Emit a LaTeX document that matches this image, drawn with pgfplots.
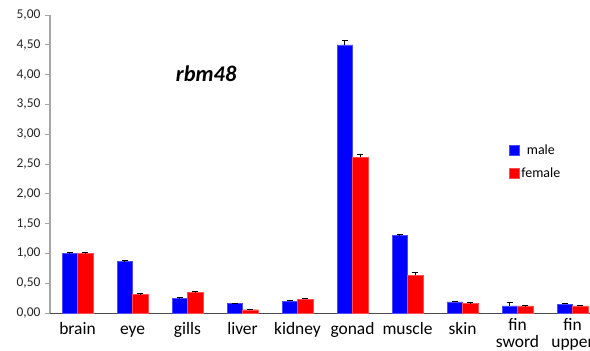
\documentclass[border=0pt]{standalone}
\usepackage{pgfplots}
\pgfplotsset{compat=1.18}
\usepackage{fontspec}
\setmainfont{Carlito}

\definecolor{male}{HTML}{0000FF}
\definecolor{female}{HTML}{FF0000}
\definecolor{axisgray}{HTML}{A6A6A6}

% common first-line height so every category label sits on one baseline
\newcommand{\lh}{\rule{0pt}{12.5bp}}

% relative expression (mean) and error for each tissue
\pgfplotstableread{
x  val   err
0  1.00  0.01
1  0.87  0.01
2  0.25  0.01
3  0.16  0.00
4  0.20  0.01
5  4.50  0.08
6  1.30  0.02
7  0.185 0.01
8  0.12  0.05
9  0.145 0.015
}\maletable
\pgfplotstableread{
x  val   err
0  1.00  0.01
1  0.31  0.01
2  0.35  0.01
3  0.055 0.01
4  0.23  0.02
5  2.61  0.05
6  0.63  0.045
7  0.16  0.015
8  0.12  0.005
9  0.12  0.01
}\femaletable

\begin{document}
\begin{tikzpicture}[x=1bp,y=1bp]
\begin{axis}[
  at={(0bp,0bp)}, anchor=south west,
  scale only axis,
  width=550bp, height=298bp,
  xmin=-0.5, xmax=9.5,
  ymin=0, ymax=5,
  ytick={0,0.5,...,5},
  xtick={0,...,7},
  xticklabels={\lh brain,\lh eye,\lh gills,\lh liver,\lh kidney,\lh gonad,\lh muscle,\lh skin},
  extra x ticks={8,9},
  extra x tick labels={{\lh fin\\sword},{\lh fin\\upper}},
  extra x tick style={major tick style={draw=none},
    xticklabel style={yshift=3.5bp}},
  xticklabel style={align=center, font=\fontsize{17.5}{16.8}\selectfont, text=black},
  major x tick style={draw=none},
  yticklabel style={font=\fontsize{13.5}{14}\selectfont, text=black!85, xshift=-1bp},
  /pgf/number format/.cd, fixed, fixed zerofill, precision=2, use comma, assume math mode=true,
  /pgfplots/.cd,
  axis x line*=bottom,
  axis y line*=left,
  x axis line style={draw=black!70, line width=0.8bp},
  y axis line style={draw=axisgray, line width=1.2bp},
  major y tick style={draw=axisgray, line width=0.8bp},
  tick align=outside,
  major tick length=5bp,
  ybar=0pt,
  bar width=15.5bp,
  legend style={draw=none, fill=none, at={(0.828,0.578)}, anchor=north west,
    font=\fontsize{14}{16}\selectfont, row sep=8bp},
  legend image code/.code={\fill[#1] (0bp,-5bp) rectangle (10.5bp,5.5bp);},
  clip=false,
]
\addplot[fill=male, draw=male!70, line width=0.4bp,
  error bars/.cd, y dir=plus, y explicit,
  error bar style={black, line width=0.9bp}, error mark options={black, mark size=3bp, line width=0.9bp, rotate=90}]
  table[x=x, y=val, y error=err] {\maletable};
\addlegendentry{male}
\addplot[fill=female, draw=female!70, line width=0.4bp,
  error bars/.cd, y dir=plus, y explicit,
  error bar style={black, line width=0.9bp}, error mark options={black, mark size=3bp, line width=0.9bp, rotate=90}]
  table[x=x, y=val, y error=err] {\femaletable};
\addlegendentry{female}
\node[font=\fontsize{22.5}{24}\selectfont\bfseries\itshape] at (axis cs:2.34,4.02) {rbm48};
\end{axis}
\pgfresetboundingbox
\useasboundingbox (-50bp,-38bp) rectangle (540bp,313bp);
\end{tikzpicture}
\end{document}
